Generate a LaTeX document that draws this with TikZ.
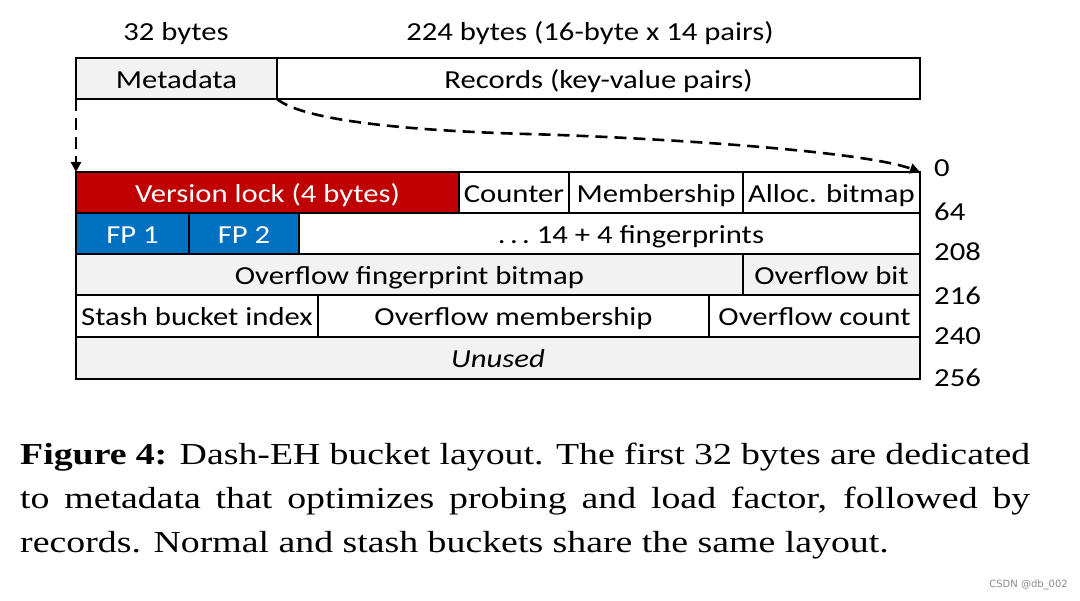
\documentclass[tikz,border=0pt]{standalone}
\usepackage{fontspec}
\usetikzlibrary{arrows.meta}
\newfontfamily\diagfont[FakeStretch=1.18]{Carlito}
\newfontfamily\capfont[FakeStretch=1.24]{Liberation Serif}
\newfontfamily\wmfont{DejaVu Sans}
\definecolor{lockred}{HTML}{C00000}
\definecolor{fpblue}{HTML}{0070C0}
\definecolor{cellgray}{HTML}{F2F2F2}
\tikzset{
  cell/.style={draw=black, line width=2.4pt, inner sep=0pt, outer sep=0pt,
    text height=22pt, text depth=2pt,
    font=\diagfont\fontsize{26}{30}\selectfont, text=black},
  lbl/.style={inner sep=0pt, font=\diagfont\fontsize{26}{30}\selectfont, text=black},
  dasharrow/.style={line width=2.6pt, dash pattern=on 12pt off 7pt,
    -{Triangle[length=10pt,width=10pt]}}
}
\begin{document}
\begin{tikzpicture}[x=1pt,y=-1pt]
\useasboundingbox[fill=white] (0,0) rectangle (1080,601);
% top labels
\node[lbl, anchor=base] (t32) at (176,41) {32 bytes};
\node[lbl, anchor=base] (t224) at (590,41) {224 bytes (16-byte x 14 pairs)};
% top bucket
\node[cell, fill=cellgray, minimum width=201pt, minimum height=41pt] (meta) at (176.5,78.5) {Metadata};
\node[cell, fill=white, minimum width=643pt, minimum height=41pt] (rec) at (598.5,78.5) {Records (key-value pairs)};
% row 1
\node[cell, fill=lockred, text=white, minimum width=383pt, minimum height=41pt] (vlock) at (267.5,192.5) {Version lock (4 bytes)};
\node[cell, fill=white, minimum width=110pt, minimum height=41pt] (counter) at (514,192.5) {Counter};
\node[cell, fill=white, minimum width=174pt, minimum height=41pt] (memb) at (656,192.5) {Membership};
\node[cell, fill=white, minimum width=177pt, minimum height=41pt] (alloc) at (831.5,192.5) {Alloc. bitmap};
% row 2
\node[cell, fill=fpblue, text=white, minimum width=113pt, minimum height=41pt] (fp1) at (132.5,233.5) {FP 1};
\node[cell, fill=fpblue, text=white, minimum width=110pt, minimum height=41pt] (fp2) at (244,233.5) {FP 2};
\node[cell, fill=white, minimum width=621pt, minimum height=41pt] (fps) at (609.5,233.5) {};
\node[lbl, text height=22pt, text depth=2pt] (fpstext) at (631,233.5) {.\,.\,.\ 14 + 4 fingerprints};
% row 3
\node[cell, fill=cellgray, minimum width=667pt, minimum height=41pt] (ofb) at (409.5,274.5) {Overflow fingerprint bitmap};
\node[cell, fill=cellgray, minimum width=177pt, minimum height=41pt] (obit) at (831.5,274.5) {Overflow bit};
% row 4
\node[cell, fill=white, minimum width=242pt, minimum height=42pt] (stash) at (197,316) {Stash bucket index};
\node[cell, fill=white, minimum width=391pt, minimum height=42pt] (omemb) at (513.5,316) {Overflow membership};
\node[cell, fill=white, minimum width=211pt, minimum height=42pt] (ocount) at (814.5,316) {Overflow count};
% row 5
\node[cell, fill=cellgray, minimum width=844pt, minimum height=42pt] (unused) at (498,358) {\itshape Unused};
% offsets
\node[lbl, anchor=west] (o0) at (934,168) {0};
\node[lbl, anchor=west] (o64) at (934,212) {64};
\node[lbl, anchor=west] (o208) at (934,252) {208};
\node[lbl, anchor=west] (o216) at (934,296) {216};
\node[lbl, anchor=west] (o240) at (934,336) {240};
\node[lbl, anchor=west] (o256) at (934,378) {256};
% dashed connectors
\draw[dasharrow] (meta.south west) -- (vlock.north west);
\draw[dasharrow] (meta.south east) .. controls (305,122) and (420,131) .. (527,134)
  .. controls (640,137) and (860,150) .. (alloc.north east);
% caption
\node[anchor=base west, inner sep=0pt, text width=1010pt, align=justify,
  font=\capfont\fontsize{30.5}{44}\selectfont] (cap) at (20,465)
  {\textbf{Figure 4:} Dash-EH bucket layout. The first 32 bytes are dedicated\linebreak
   to metadata that optimizes probing and load factor, followed by\linebreak
   records. Normal and stash buckets share the same layout.};
\node[anchor=east, inner sep=0pt, text=black!45, font=\wmfont\fontsize{10}{12}\selectfont] (wm) at (1068,585) {CSDN @db\_002};
\end{tikzpicture}
\end{document}
